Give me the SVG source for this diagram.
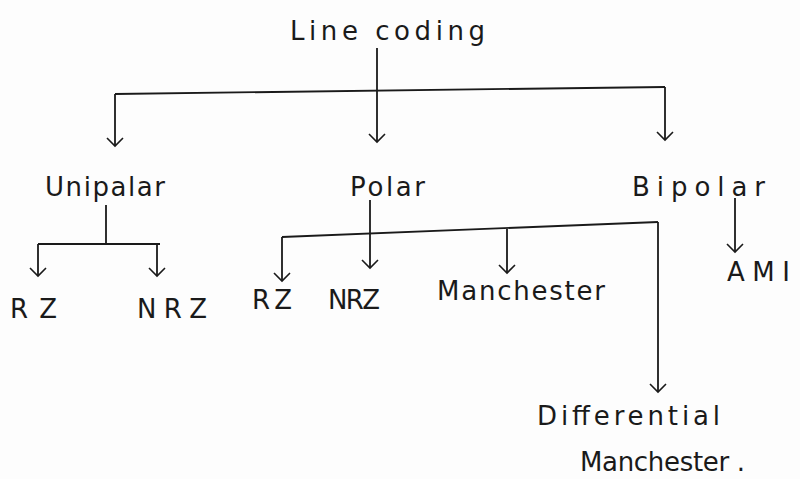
<svg xmlns="http://www.w3.org/2000/svg" width="800" height="479" viewBox="0 0 800 479">
<defs>
<marker id="v" viewBox="0 0 20 20" refX="18" refY="10" markerWidth="20" markerHeight="20" markerUnits="userSpaceOnUse" orient="auto">
<path d="M10,2 L18,10 L10,18" fill="none" stroke="#1a1a1a" stroke-width="1.6"/>
</marker>
<style>
.t{font-family:"DejaVu Sans","Liberation Sans",sans-serif;fill:#1a1a1a;font-size:26px}
.l{fill:none;stroke:#1a1a1a;stroke-width:1.8}
.a{fill:none;stroke:#1a1a1a;stroke-width:1.8;marker-end:url(#v)}
</style>
</defs>
<rect width="800" height="479" fill="#fdfdfd"/>
<g id="connectors">
<path class="l" d="M377,48 V92"/>
<path class="l" d="M115,94 L665,87"/>
<path class="a" d="M115,94 V146"/>
<path class="a" d="M377,92 V142"/>
<path class="a" d="M665,87 V140"/>
<path class="l" d="M106,205 V244"/>
<path class="l" d="M38,244 H160"/>
<path class="a" d="M38,244 V276"/>
<path class="a" d="M157,244 V276"/>
<path class="a" d="M370,200 V268"/>
<path class="l" d="M282,237 L658,222"/>
<path class="a" d="M282,237 V281"/>
<path class="a" d="M507,229 V273"/>
<path class="a" d="M658,222 V392"/>
<path class="a" d="M735,198 V252"/>
</g>
<g id="line-coding"><text class="t" x="290" y="40" textLength="195" lengthAdjust="spacing">Line coding</text></g>
<g id="unipolar"><text class="t" x="45" y="196" textLength="120" lengthAdjust="spacing">Unipalar</text></g>
<g id="polar"><text class="t" x="350" y="196" textLength="75" lengthAdjust="spacing">Polar</text></g>
<g id="bipolar"><text class="t" x="632" y="196" textLength="133" lengthAdjust="spacing">Bipolar</text></g>
<g id="uni-rz"><text class="t" x="10" y="318" textLength="47" lengthAdjust="spacing">RZ</text></g>
<g id="uni-nrz"><text class="t" x="137" y="318" textLength="70" lengthAdjust="spacing">NRZ</text></g>
<g id="polar-rz"><text class="t" x="252" y="309" textLength="40" lengthAdjust="spacing">RZ</text></g>
<g id="polar-nrz"><text class="t" x="328" y="309" textLength="52" lengthAdjust="spacing">NRZ</text></g>
<g id="manchester"><text class="t" x="437" y="300" textLength="168" lengthAdjust="spacing">Manchester</text></g>
<g id="ami"><text class="t" x="727" y="281" textLength="63" lengthAdjust="spacing">AMI</text></g>
<g id="diff-manchester">
<text class="t" x="537" y="425" textLength="183" lengthAdjust="spacing">Differential</text>
<text class="t" x="580" y="471" textLength="165" lengthAdjust="spacing">Manchester .</text>
</g>
</svg>
